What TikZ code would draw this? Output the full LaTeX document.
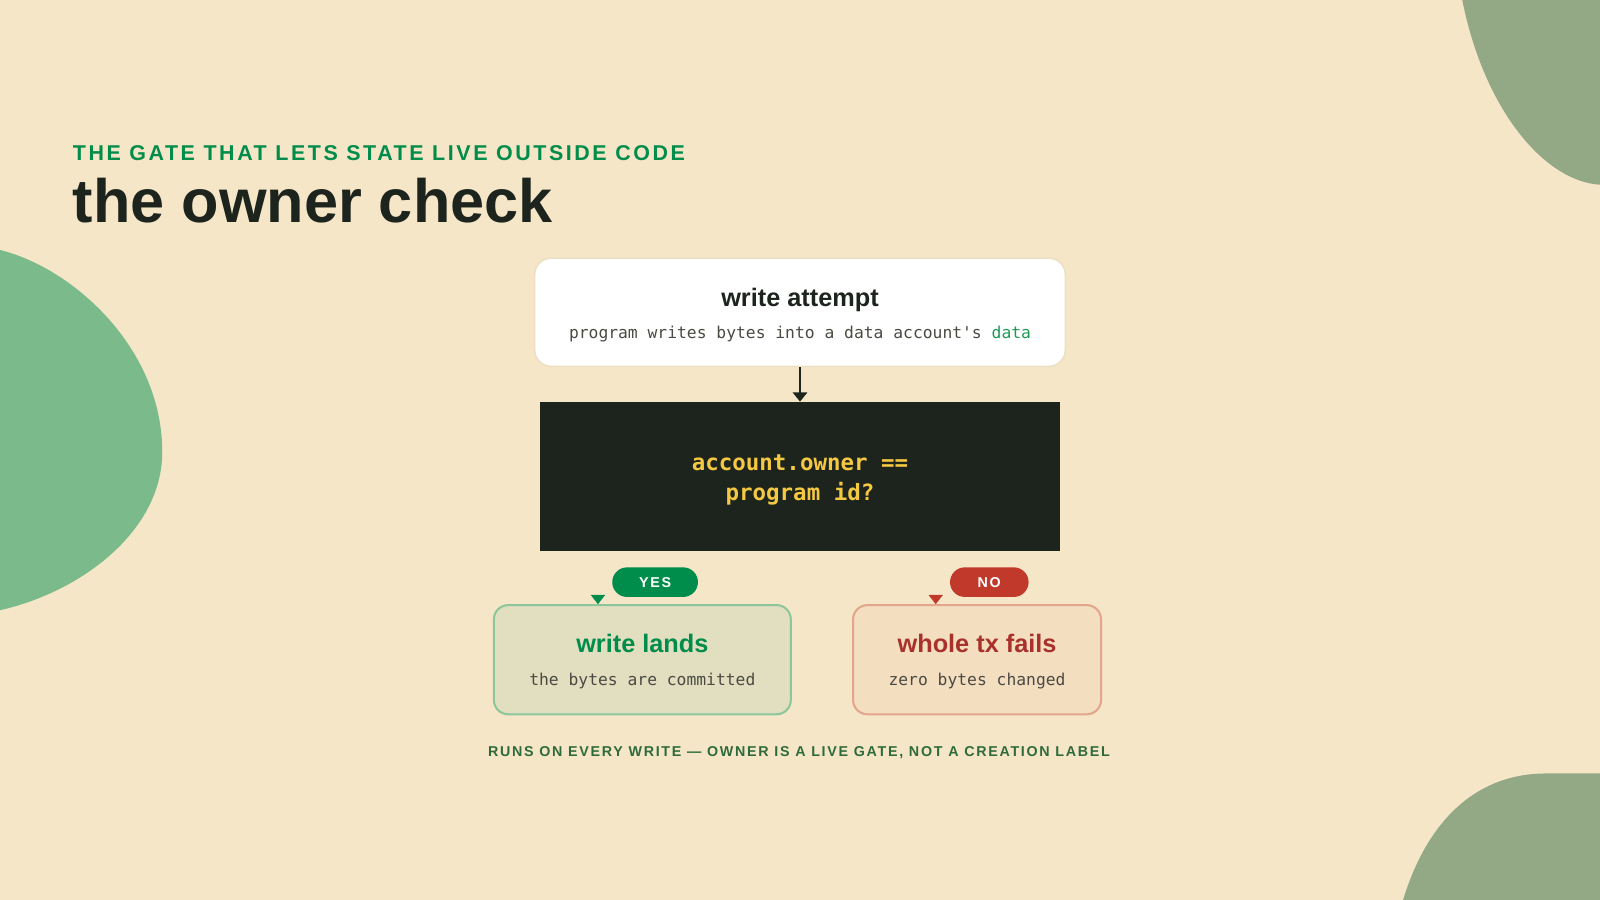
\documentclass[tikz,border=0pt]{standalone}
\usepackage{fontspec}
\setmainfont{Liberation Sans}
\setmonofont{DejaVu Sans Mono}
\newfontfamily\trackfont{Liberation Sans}[LetterSpace=12]
\usepackage{tikz}
\usetikzlibrary{arrows.meta,positioning}

\definecolor{cream}{HTML}{F5E6C8}
\definecolor{leaf}{HTML}{7BBA8A}
\definecolor{sage}{HTML}{93A985}
\definecolor{ink}{HTML}{1C241D}
\definecolor{kicker}{HTML}{008C4A}
\definecolor{gold}{HTML}{F5C842}
\definecolor{subgrey}{HTML}{4A4A42}
\definecolor{codegreen}{HTML}{1E9A55}
\definecolor{footgreen}{HTML}{2F6B3A}
\definecolor{yesfill}{HTML}{E1DFC0}
\definecolor{yesline}{HTML}{8DC69A}
\definecolor{nofill}{HTML}{F4DEC0}
\definecolor{noline}{HTML}{E3A58C}
\definecolor{nored}{HTML}{C0392B}
\definecolor{nohead}{HTML}{A8322B}
\definecolor{cardline}{HTML}{EDE0C2}

\begin{document}
\begin{tikzpicture}[x=0.5pt,y=-0.5pt,
	card/.style={rectangle,rounded corners=7pt,line width=1pt,inner sep=0pt},
	pill/.style={rectangle,rounded corners=7.25pt,minimum height=14.5pt,inner sep=0pt,text=white,font=\trackfont\bfseries\fontsize{7}{8}\selectfont},
	head/.style={anchor=base,font=\bfseries\fontsize{12.4}{14}\selectfont},
	sub/.style={anchor=base,text=subgrey,font=\ttfamily\fontsize{8}{10}\selectfont},
	flow/.style={-{Triangle[length=4.5pt,width=7pt]},line width=1pt,draw=ink},
	tip/.style={-{Triangle[length=4.5pt,width=7pt]},line width=0.1pt}]

	\useasboundingbox (0,0) rectangle (1568,882);
	\fill[cream] (0,0) rectangle (1568,882);

	\begin{scope}
		\clip (0,0) rectangle (1568,882);
		\fill[leaf] (-10,245) -- (0,245) .. controls (70,262) and (159,340) .. (159,443)
			.. controls (159,520) and (80,580) .. (0,598) -- (-10,598) -- cycle;
		\fill[sage] (1431,-10) -- (1433,0) .. controls (1455,110) and (1515,178) .. (1568,181)
			-- (1580,183) -- (1580,-10) -- cycle;
		\fill[sage] (1375,892) -- (1375,882) .. controls (1400,800) and (1450,758) .. (1515,758)
			-- (1580,758) -- (1580,892) -- cycle;
	\end{scope}

	\node[anchor=base west,inner sep=0pt,text=kicker,font=\trackfont\bfseries\fontsize{10.5}{12}\selectfont] (kick) at (71,157) {THE GATE THAT LETS STATE LIVE OUTSIDE CODE};
	\node[anchor=base west,inner sep=0pt,text=ink,font=\bfseries\fontsize{30}{34}\selectfont] (title) at (71,218) {the owner check};

	\node[card,rounded corners=8pt,fill=white,draw=cardline,line width=0.75pt,minimum width=260pt,minimum height=53pt] (attempt) at (784,306) {};
	\node[head,text=ink] (attemptT) at (784,300) {write attempt};
	\node[sub] (attemptS) at (784,332) {program writes bytes into a data account's {\color{codegreen}data}};

	\node[rectangle,fill=ink,minimum width=255pt,minimum height=73pt,inner sep=0pt] (gate) at (784,467) {};
	\node[anchor=base,text=gold,font=\ttfamily\bfseries\fontsize{11}{14}\selectfont] (gateA) at (784,461) {account.owner ==};
	\node[anchor=base,text=gold,font=\ttfamily\bfseries\fontsize{11}{14}\selectfont] (gateB) at (784,490) {program id?};
	\draw[flow] (attempt) -- (gate);

	\node[card,fill=yesfill,draw=yesline,minimum width=145.5pt,minimum height=53.5pt] (lands) at (629.5,646.5) {};
	\node[head,text=kicker] (landsT) at (629.5,639) {write lands};
	\node[sub] (landsS) at (629.5,672) {the bytes are committed};

	\node[card,fill=nofill,draw=noline,minimum width=121.5pt,minimum height=53.5pt] (fails) at (957.5,646.5) {};
	\node[head,text=nohead] (failsT) at (957.5,639) {whole tx fails};
	\node[sub] (failsS) at (957.5,672) {zero bytes changed};

	\node[pill,fill=kicker,minimum width=42pt] (yes) at (642,570.5) {YES};
	\node[pill,fill=nored,minimum width=38.5pt] (no) at (969.5,570.5) {NO};
	\coordinate (yesfrom) at (586,584);
	\coordinate (nofrom) at (917,584);
	\draw[tip,draw=kicker,fill=kicker] (yesfrom) -- (yesfrom |- lands.north);
	\draw[tip,draw=nored,fill=nored] (nofrom) -- (nofrom |- fails.north);

	\node[anchor=base,inner sep=0pt,text=footgreen,font=\trackfont\bfseries\fontsize{7}{8}\selectfont] (foot) at (783,741) {RUNS ON EVERY WRITE — OWNER IS A LIVE GATE, NOT A CREATION LABEL};
\end{tikzpicture}
\end{document}
